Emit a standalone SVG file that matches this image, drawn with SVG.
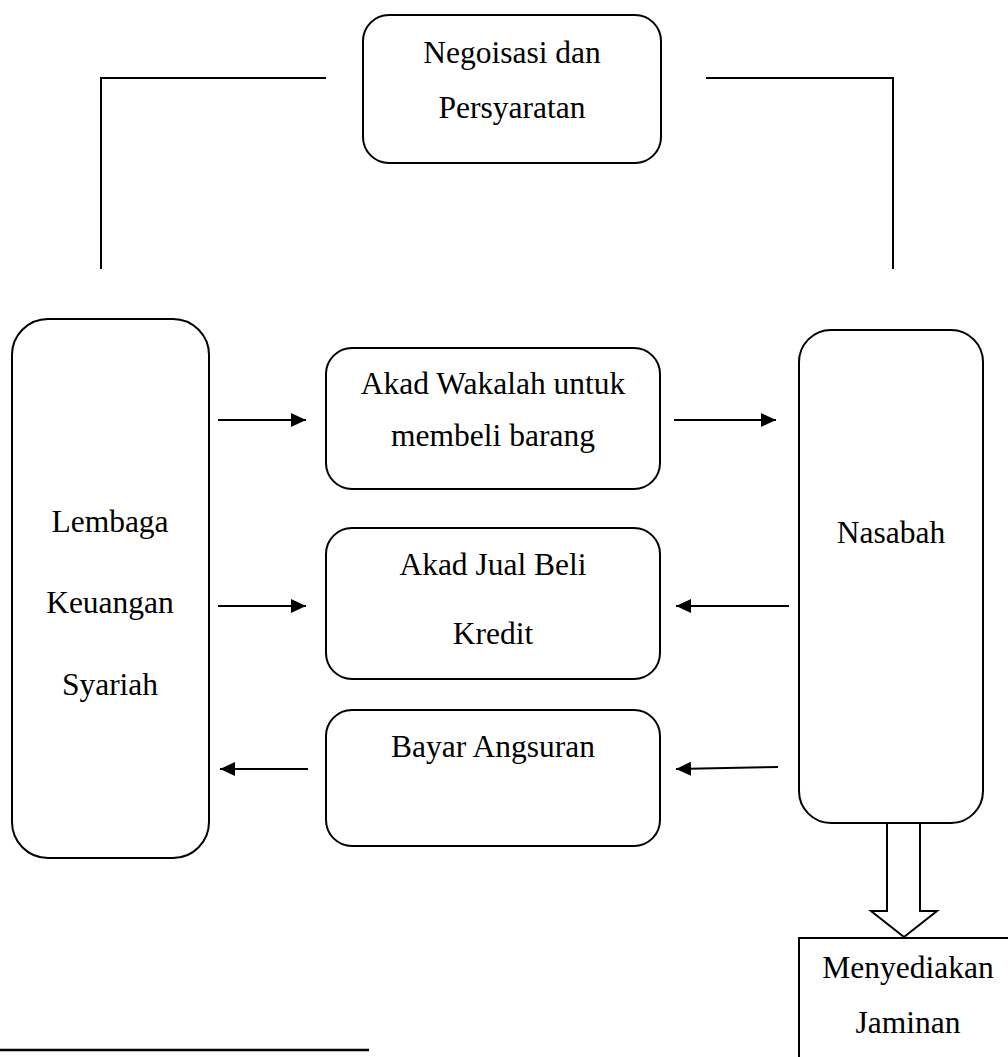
<svg xmlns="http://www.w3.org/2000/svg" width="1008" height="1057" viewBox="0 0 1008 1057">
<defs>
<style>
.box{fill:#fff;stroke:#000;stroke-width:2}
.ln{fill:none;stroke:#000;stroke-width:2}
.t{font-family:"Liberation Serif","Times New Roman",serif;font-size:31.5px;fill:#000;text-anchor:middle}
</style>
<marker id="ah" markerUnits="userSpaceOnUse" markerWidth="16" markerHeight="14" refX="15" refY="7" orient="auto">
<path d="M0,0 L15,7 L0,14 Z" fill="#000"/>
</marker>
</defs>
<rect width="1008" height="1057" fill="#fff"/>
<g id="connectors">
<polyline class="ln" points="101,269 101,78 326,78"/>
<polyline class="ln" points="706,78 893,78 893,269"/>
<line class="ln" x1="218" y1="420" x2="306" y2="420" marker-end="url(#ah)"/>
<line class="ln" x1="674" y1="420" x2="776" y2="420" marker-end="url(#ah)"/>
<line class="ln" x1="218" y1="606" x2="306" y2="606" marker-end="url(#ah)"/>
<line class="ln" x1="789" y1="606" x2="676" y2="606" marker-end="url(#ah)"/>
<line class="ln" x1="308" y1="769" x2="220" y2="769" marker-end="url(#ah)"/>
<line class="ln" x1="778" y1="767" x2="676" y2="769" marker-end="url(#ah)"/>
<path class="box" d="M887,823 L887,911 L871,911 L904,937 L937,911 L920,911 L920,823"/>
</g>
<g id="negoisasi">
<rect class="box" x="363" y="15" width="298" height="148" rx="26"/>
<text class="t" x="512" y="63">Negoisasi dan</text>
<text class="t" x="512" y="118">Persyaratan</text>
</g>
<g id="lembaga">
<rect class="box" x="12" y="319" width="197" height="539" rx="36"/>
<text class="t" x="110" y="532">Lembaga</text>
<text class="t" x="110" y="613">Keuangan</text>
<text class="t" x="110" y="695">Syariah</text>
</g>
<g id="nasabah">
<rect class="box" x="799" y="330" width="184" height="493" rx="32"/>
<text class="t" x="891" y="543">Nasabah</text>
</g>
<g id="wakalah">
<rect class="box" x="326" y="348" width="334" height="141" rx="26"/>
<text class="t" x="493" y="394">Akad Wakalah untuk</text>
<text class="t" x="493" y="446">membeli barang</text>
</g>
<g id="jualbeli">
<rect class="box" x="326" y="528" width="334" height="151" rx="26"/>
<text class="t" x="493" y="575">Akad Jual Beli</text>
<text class="t" x="493" y="644">Kredit</text>
</g>
<g id="angsuran">
<rect class="box" x="326" y="710" width="334" height="136" rx="26"/>
<text class="t" x="493" y="757">Bayar Angsuran</text>
</g>
<g id="jaminan">
<rect class="box" x="799" y="938" width="220" height="140"/>
<text class="t" x="908" y="978">Menyediakan</text>
<text class="t" x="908" y="1033">Jaminan</text>
</g>
<line x1="0" y1="1050" x2="369" y2="1050" stroke="#000" stroke-width="2.5"/>
</svg>
